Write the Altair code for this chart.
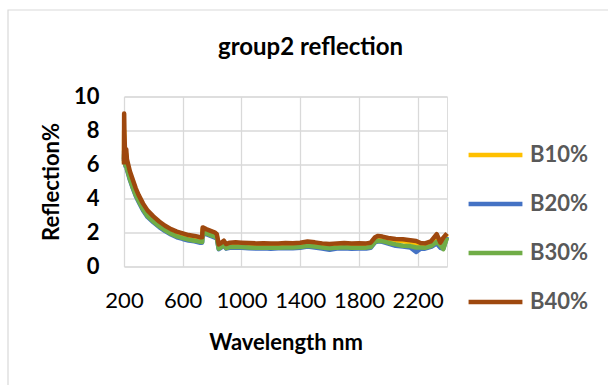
import altair as alt
import pandas as pd

wavelength = [200, 201, 203, 206, 210, 215, 220, 240, 260, 280, 300, 330, 360, 400, 440, 480, 520, 560, 600, 640,
              680, 720, 732, 736, 760, 790, 820, 832, 845, 860, 880, 895, 920, 960, 1000, 1050, 1100, 1150, 1200, 1250,
              1300, 1350, 1400, 1450, 1500, 1550, 1600, 1650, 1700, 1750, 1800, 1850, 1880, 1910, 1930, 1960, 2000, 2050,
              2100, 2150, 2190, 2220, 2250, 2290, 2330, 2355, 2375, 2400]

b10 = [6.1, 8.0, 7.2, 6.8, 6.5, 6.6, 6.1, 5.45, 4.95, 4.48, 4.1, 3.6, 3.2, 2.85, 2.55, 2.3, 2.1, 1.95, 1.85, 1.76,
       1.7, 1.62, 1.62, 2.2, 2.1, 2.0, 1.9, 1.82, 1.2, 1.28, 1.42, 1.22, 1.3, 1.32, 1.3, 1.28, 1.26, 1.27, 1.25, 1.27,
       1.28, 1.27, 1.3, 1.37, 1.32, 1.26, 1.23, 1.26, 1.28, 1.25, 1.27, 1.26, 1.3, 1.6, 1.68, 1.65, 1.57, 1.5,
       1.48, 1.42, 1.35, 1.26, 1.25, 1.36, 1.75, 1.3, 1.6, 1.9]

b20 = [6.2, 6.8, 6.4, 6.1, 5.9, 6.0, 5.7, 5.1, 4.6, 4.15, 3.8, 3.3, 2.92, 2.6, 2.32, 2.08, 1.88, 1.72, 1.62, 1.53,
       1.48, 1.4, 1.4, 1.95, 1.9, 1.8, 1.7, 1.65, 1.02, 1.1, 1.25, 1.05, 1.1, 1.12, 1.1, 1.08, 1.06, 1.07, 1.05, 1.07,
       1.08, 1.07, 1.1, 1.18, 1.12, 1.05, 0.98, 1.06, 1.08, 1.05, 1.06, 1.06, 1.1, 1.42, 1.48, 1.45, 1.35, 1.22,
       1.18, 1.12, 0.85, 1.05, 1.05, 1.15, 1.35, 1.1, 1.05, 1.75]

b30 = [6.3, 6.6, 6.3, 6.1, 5.95, 6.0, 5.75, 5.15, 4.65, 4.2, 3.85, 3.35, 2.97, 2.65, 2.37, 2.13, 1.93, 1.77, 1.67, 1.58,
       1.52, 1.45, 1.44, 2.0, 1.95, 1.85, 1.75, 1.7, 1.05, 1.13, 1.28, 1.08, 1.14, 1.16, 1.14, 1.12, 1.1, 1.11, 1.1, 1.11,
       1.12, 1.12, 1.14, 1.22, 1.17, 1.12, 1.08, 1.11, 1.13, 1.1, 1.11, 1.11, 1.15, 1.45, 1.52, 1.5, 1.4, 1.3,
       1.22, 1.2, 1.12, 1.12, 1.1, 1.2, 1.45, 1.25, 1.02, 1.7]

b40 = [6.0, 9.0, 7.8, 7.0, 6.7, 6.9, 6.3, 5.6, 5.1, 4.6, 4.2, 3.7, 3.3, 2.95, 2.65, 2.4, 2.2, 2.05, 1.95, 1.85,
       1.8, 1.72, 1.72, 2.3, 2.2, 2.1, 2.0, 1.9, 1.3, 1.38, 1.52, 1.32, 1.4, 1.42, 1.4, 1.38, 1.36, 1.37, 1.35, 1.36,
       1.38, 1.37, 1.4, 1.47, 1.42, 1.36, 1.33, 1.36, 1.38, 1.35, 1.37, 1.36, 1.4, 1.72, 1.8, 1.76, 1.68, 1.62,
       1.6, 1.55, 1.5, 1.38, 1.36, 1.48, 1.9, 1.4, 1.7, 1.95]

series_names = ["B10%", "B20%", "B30%", "B40%"]
series_colors = ["#FFC000", "#4472C4", "#70AD47", "#9E480E"]
x_ticks = [200, 600, 1000, 1400, 1800, 2200]
y_ticks = [0, 2, 4, 6, 8, 10]

rows = []
for name, vals in zip(series_names, [b10, b20, b30, b40]):
    for w, v in zip(wavelength, vals):
        rows.append({"Wavelength": w, "Reflection": v, "Series": name})
df = pd.DataFrame(rows)

FONT = "Lato"

lines = alt.Chart(df).mark_line(strokeWidth=4.5, strokeJoin="round").encode(
    x=alt.X("Wavelength:Q",
            scale=alt.Scale(domain=[200, 2400], nice=False, zero=False),
            axis=alt.Axis(values=x_ticks, format="d", title="Wavelength nm", grid=True, gridColor="#D9D9D9",
                          gridWidth=1.3, domain=False, ticks=False, labelPadding=24,
                          labelFont=FONT, labelFontSize=22, labelColor="#000000", labelOverlap=False,
                          labelFlush=False,
                          titleFont=FONT, titleFontSize=22, titleFontWeight="bold", titleColor="#000000",
                          titleBaseline="alphabetic", titleY=83)),
    y=alt.Y("Reflection:Q",
            scale=alt.Scale(domain=[0, 10], nice=False),
            axis=alt.Axis(values=y_ticks, title="Reflection%", grid=True, gridColor="#D9D9D9",
                          gridWidth=1.3, domain=False, ticks=False, labelPadding=25,
                          labelFont=FONT, labelFontSize=22, labelFontWeight="bold", labelColor="#000000",
                          titleFont=FONT, titleFontSize=22, titleFontWeight="bold", titleColor="#000000",
                          titleBaseline="alphabetic", titleX=-66)),
    color=alt.Color("Series:N",
                    scale=alt.Scale(domain=series_names, range=series_colors),
                    legend=alt.Legend(title=None, orient="none", legendX=342, legendY=29,
                                      symbolType="stroke", symbolSize=2900, symbolStrokeWidth=4.5,
                                      labelFont=FONT, labelFontSize=22, labelFontWeight="bold",
                                      labelColor="#595959", labelOffset=5, rowPadding=8, padding=0)),
)

border = alt.Chart(pd.DataFrame({"a": [0]})).mark_rect(fill=None, stroke="#D9D9D9", strokeWidth=1.2).encode(
    x=alt.value(-116), x2=alt.value(600), y=alt.value(-86.5), y2=alt.value(400)
)

chart = alt.layer(border, lines).properties(
    width=323, height=170,
    padding={"left": 124, "top": 96.5, "right": 161, "bottom": 118.5},
    autosize=alt.AutoSizeParams(type="none"),
    title=alt.Title("group2 reflection", font=FONT, fontSize=24, fontWeight="bold", color="#000000",
                    anchor="middle", dx=25, baseline="alphabetic", offset=0, dy=70),
).configure_view(stroke=None).configure(background="white")

chart.save("out.html", embed_options={"renderer": "svg", "actions": False})
